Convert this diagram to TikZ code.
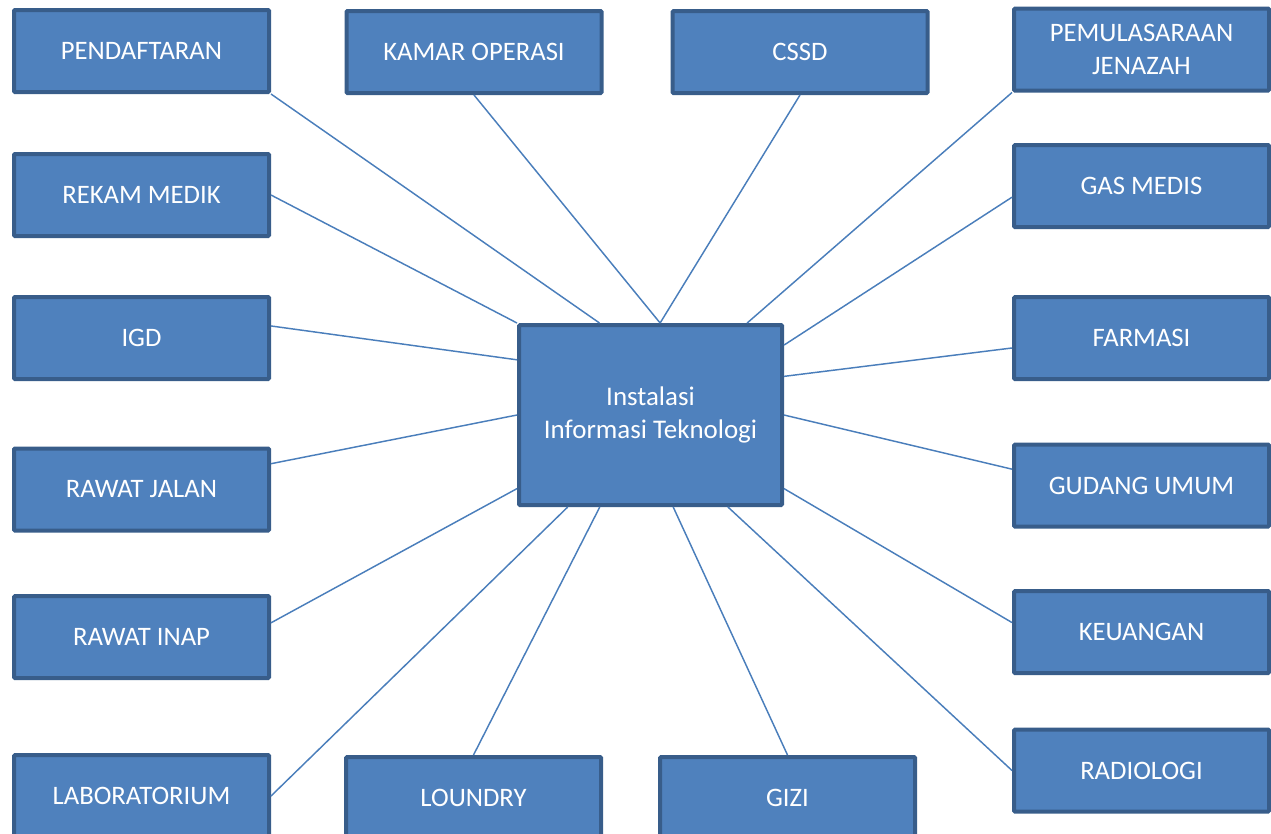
\documentclass[tikz,border=0pt]{standalone}
\usepackage{fontspec}
\setmainfont{Carlito}
\usetikzlibrary{calc}
\definecolor{boxfill}{HTML}{4F81BD}
\definecolor{boxdraw}{HTML}{385D8A}
\definecolor{linkcol}{HTML}{4A7EBB}
\begin{document}
\begin{tikzpicture}[x=0.75pt,y=-0.75pt,
  unitbox/.style={draw=boxdraw,fill=boxfill,line width=3pt,rounded corners=0.8pt,
    minimum width=191.25pt,minimum height=61.5pt,inner sep=0pt,text=white,align=center,
    font=\fontsize{20}{24.5}\selectfont},
  hubbox/.style={unitbox,minimum width=197.25pt,minimum height=135pt,
    font=\fontsize{20.2}{24.5}\selectfont},
  link/.style={draw=linkcol,line width=1.1pt}]
\useasboundingbox (0,0) rectangle (1271,833);
% hub
\node[hubbox] (c) at (650.5,415) {Instalasi\\Informasi Teknologi};
% left column
\node[unitbox] (pend) at (141.5,51) {PENDAFTARAN};
\node[unitbox] (rekam) at (141.5,195) {REKAM MEDIK};
\node[unitbox] (igd) at (141.5,338) {IGD};
\node[unitbox] (rj) at (141.5,489.5) {RAWAT JALAN};
\node[unitbox] (ri) at (141.5,637) {RAWAT INAP};
\node[unitbox] (lab) at (141.5,796) {LABORATORIUM};
% top row
\node[unitbox] (kamar) at (474,52) {KAMAR OPERASI};
\node[unitbox] (cssd) at (800,52) {CSSD};
\node[unitbox] (pemul) at (1141.5,49.5) {PEMULASARAAN\\JENAZAH};
% right column
\node[unitbox] (gas) at (1141.5,186) {GAS MEDIS};
\node[unitbox] (farm) at (1141.5,338) {FARMASI};
\node[unitbox] (gud) at (1141.5,485.5) {GUDANG UMUM};
\node[unitbox] (keu) at (1141.5,632) {KEUANGAN};
\node[unitbox] (rad) at (1141.5,770.5) {RADIOLOGI};
% bottom row
\node[unitbox] (loun) at (473.5,798) {LOUNDRY};
\node[unitbox] (gizi) at (787.5,798) {GIZI};
% connectors
\draw[link] (pend.south east) -- ($(c.north west)!0.309!(c.north east)$);
\draw[link] (kamar.south) -- ($(c.north west)!0.536!(c.north east)$);
\draw[link] (cssd.south) -- ($(c.north west)!0.536!(c.north east)$);
\draw[link] (pemul.south west) -- ($(c.north west)!0.862!(c.north east)$);
\draw[link] (rekam.east) -- (c.north west);
\draw[link] ($(igd.north east)!0.36!(igd.south east)$) -- ($(c.north west)!0.2!(c.south west)$);
\draw[link] ($(rj.north east)!0.2!(rj.south east)$) -- (c.west);
\draw[link] ($(ri.north east)!0.335!(ri.south east)$) -- ($(c.north west)!0.9!(c.south west)$);
\draw[link] (lab.east) -- ($(c.south west)!0.19!(c.south east)$);
\draw[link] (loun.north) -- ($(c.south west)!0.31!(c.south east)$);
\draw[link] (gizi.north) -- ($(c.south west)!0.585!(c.south east)$);
\draw[link] (rad.west) -- ($(c.south west)!0.79!(c.south east)$);
\draw[link] ($(gas.north west)!0.63!(gas.south west)$) -- ($(c.north east)!0.12!(c.south east)$);
\draw[link] ($(farm.north west)!0.616!(farm.south west)$) -- ($(c.north east)!0.29!(c.south east)$);
\draw[link] ($(gud.north west)!0.31!(gud.south west)$) -- (c.east);
\draw[link] ($(keu.north west)!0.39!(keu.south west)$) -- ($(c.north east)!0.9!(c.south east)$);
\end{tikzpicture}
\end{document}
